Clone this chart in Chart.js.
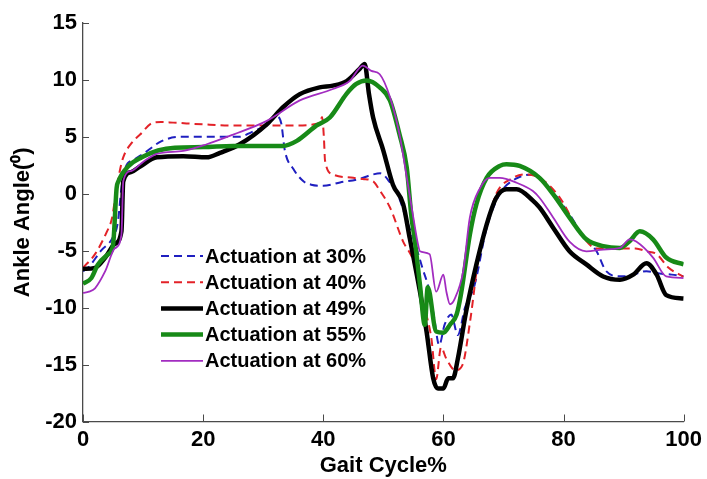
<!DOCTYPE html>
<html>
<head>
<meta charset="utf-8">
<script src="https://cdn.jsdelivr.net/npm/chart.js@4/dist/chart.umd.min.js"></script>
<style>
  html, body { margin: 0; padding: 0; background: #ffffff; }
  #wrap { width: 707px; height: 479px; }
</style>
</head>
<body>
<div id="wrap"><canvas id="c" width="707" height="479"></canvas></div>
<script>
// ---- data ----
const seriesLabels = ['Actuation at 30%', 'Actuation at 40%', 'Actuation at 49%', 'Actuation at 55%', 'Actuation at 60%'];
const xTicks = [0, 20, 40, 60, 80, 100];
const yTicks = [-20, -15, -10, -5, 0, 5, 10, 15];

const act30X = [0, 1, 3, 5, 5.8, 6.4, 7, 8.5, 10, 13, 16, 20, 23, 26, 28, 30, 32.2, 33, 33.6, 35, 36.7, 38, 40, 42.8, 46, 48.3, 49.5, 51.1, 52.5, 54, 55.3, 56.5, 57.7, 58.5, 59.3, 60.2, 61.3, 62.4, 63.6, 65.2, 67.2, 69.4, 72, 75, 78, 81, 83, 85.5, 87.1, 89.4, 91, 93.8, 96, 98, 100];
const act30Y = [-6.8, -6.4, -5, -3.8, -2.5, 0.5, 2.2, 3.0, 3.5, 4.6, 5.0, 5.0, 5.0, 5.0, 5.4, 5.9, 6.8, 6.2, 3.8, 2.2, 1.1, 0.8, 0.7, 1.0, 1.3, 1.7, 1.8, 1.0, -0.2, -2.5, -4.4, -6.5, -8.6, -11.0, -13.3, -11.5, -10.6, -12.4, -10.0, -8.0, -3.0, 0.0, 1.3, 1.7, 0.3, -1.8, -3.5, -5.05, -6.8, -7.25, -7.2, -6.8, -7.0, -7.1, -7.25];

const act40X = [0, 2, 4, 4.8, 5.6, 6.2, 6.7, 8, 9.5, 11.7, 13, 15, 20, 25, 30, 35, 39.4, 39.8, 40.1, 40.3, 41.6, 45, 46.6, 48.3, 49.4, 51.1, 53.3, 55, 56.6, 58, 58.8, 59.6, 60.5, 62, 63.2, 64.5, 66, 67.5, 68.8, 71.6, 73.5, 76, 79.4, 82.6, 85.5, 89.4, 92, 93.8, 95.5, 97.5, 100];
const act40Y = [-6.5, -5.3, -3.3, -2.2, 0.5, 2.2, 3.2, 4.4, 5.2, 6.25, 6.3, 6.25, 6.1, 6.0, 6.0, 6.0, 6.2, 6.75, 5.0, 2.9, 1.7, 1.4, 1.3, 1.1, 0.3, -1.2, -4.2, -5.9, -9.5, -12.7, -16.3, -13.5, -14.5, -15.5, -15.0, -11.0, -5.05, -2.3, 0.0, 1.4, 1.7, 1.4, -0.35, -3.3, -4.8, -4.8, -4.8, -5.05, -5.3, -6.5, -7.3];

const act49X = [0, 2, 3.7, 5.3, 6.4, 6.7, 8, 9.5, 12.3, 16.7, 20.6, 22.8, 26.1, 30.6, 33.3, 36.1, 39.4, 41.6, 43.9, 46.1, 46.9, 47.6, 48.3, 50, 51.6, 53.3, 54.4, 56.1, 57.2, 58.3, 59.1, 60, 60.8, 61.6, 62.4, 63.8, 65.5, 67.2, 68.8, 70.5, 72.2, 74.9, 76, 78.3, 81, 83.8, 86.6, 89.4, 91.6, 93.8, 95.5, 97.1, 100];
const act49Y = [-6.6, -6.5, -5.6, -4.4, -3.3, 1.1, 1.9, 2.4, 3.2, 3.3, 3.2, 3.6, 4.35, 6.1, 7.6, 8.75, 9.35, 9.5, 9.9, 11.0, 11.4, 8.8, 6.7, 3.8, 0.8, -0.9, -3.9, -8.6, -12.1, -16.2, -17.1, -17.1, -16.2, -16.2, -14.5, -10.3, -6.2, -2.7, -0.35, 0.4, 0.4, -0.6, -1.2, -3.0, -5.05, -6.2, -7.26, -7.55, -7.1, -6.1, -7.1, -8.9, -9.2];

const act55X = [0, 1.4, 2.5, 4.2, 5.0, 5.6, 5.9, 7.5, 9.8, 12.5, 15.3, 20, 25, 30, 33.3, 35.6, 38.9, 41.1, 43.9, 45.5, 47.2, 49.4, 51.1, 52.7, 53.9, 54.7, 55.2, 56.1, 56.9, 57.4, 58.8, 60, 61.1, 62.2, 62.9, 64.4, 65.5, 67.2, 69.4, 70.5, 72.7, 76, 78.3, 81, 83.8, 86.6, 89.4, 91, 92.7, 94.9, 97.1, 100];
const act55Y = [-7.9, -7.4, -6.2, -5.3, -4.5, 0.5, 1.1, 2.4, 3.2, 3.8, 4.05, 4.1, 4.2, 4.2, 4.2, 4.65, 6.0, 6.7, 8.8, 9.65, 9.95, 9.35, 8.2, 5.2, 2.3, -2.1, -3.9, -8.0, -11.5, -8.2, -12.1, -12.2, -11.5, -10.6, -8.9, -3.6, -0.9, 1.4, 2.45, 2.6, 2.45, 1.4, -0.05, -2.1, -4.0, -4.6, -4.76, -4.17, -3.3, -4.0, -5.6, -6.2];

const act60X = [0, 1, 2, 3.7, 5.3, 6.4, 6.7, 8, 10, 12.3, 16.7, 20.6, 25, 30.6, 36.1, 41.6, 44.4, 46.6, 48, 49.4, 51.1, 52.7, 54.1, 55, 55.8, 56.1, 57.7, 58.8, 60, 60.5, 61.1, 61.9, 63.3, 64.4, 66.1, 67.7, 69.4, 72.2, 74.9, 76, 78.3, 81, 83.8, 86.6, 89.4, 91, 92.1, 94.9, 97.1, 100];
const act60Y = [-8.7, -8.6, -8.3, -6.8, -4.8, -3.6, 1.1, 2.0, 2.8, 3.5, 3.77, 4.35, 5.2, 6.4, 8.2, 9.2, 9.9, 11.26, 10.8, 10.5, 8.5, 5.2, 0.8, -2.1, -4.5, -5.05, -5.3, -8.6, -7.1, -8.6, -9.7, -9.2, -6.8, -2.1, 0.5, 1.4, 1.4, 0.97, 0.24, -0.35, -2.1, -4.2, -5.05, -4.9, -4.76, -4.0, -4.2, -5.6, -7.26, -7.4];

// ---- build datasets ----
function pts(xs, ys) { return xs.map((x, i) => ({ x: x, y: ys[i] })); }
const FONT = '"Liberation Sans", Arial, sans-serif';

const datasets = [
  { label: seriesLabels[0], data: pts(act30X, act30Y), borderColor: '#1f1fc0', borderWidth: 2, borderDash: [8, 5], order: 5 },
  { label: seriesLabels[1], data: pts(act40X, act40Y), borderColor: '#e32228', borderWidth: 2, borderDash: [8, 5], order: 4 },
  { label: seriesLabels[2], data: pts(act49X, act49Y), borderColor: '#000000', borderWidth: 4.5, borderDash: [], order: 3 },
  { label: seriesLabels[3], data: pts(act55X, act55Y), borderColor: '#178a17', borderWidth: 4.5, borderDash: [], order: 2 },
  { label: seriesLabels[4], data: pts(act60X, act60Y), borderColor: '#a22cc0', borderWidth: 1.8, borderDash: [], order: 1 }
];
datasets.forEach(d => {
  d.pointRadius = 0; d.fill = false; d.tension = 0.25;
  d.cubicInterpolationMode = 'monotone'; d.borderJoinStyle = 'round';
});

// inward tick marks
const tickPlugin = {
  id: 'inwardTicks',
  afterDraw(chart) {
    const ctx = chart.ctx, xs = chart.scales.x, ys = chart.scales.y;
    const a = chart.chartArea;
    ctx.save();
    ctx.strokeStyle = '#4a4a4a';
    ctx.lineWidth = 1;
    ctx.beginPath();
    yTicks.forEach(v => {
      const y = Math.round(ys.getPixelForValue(v)) + 0.5;
      ctx.moveTo(a.left, y); ctx.lineTo(a.left + 6, y);
    });
    xTicks.forEach(v => {
      const x = Math.round(xs.getPixelForValue(v)) + 0.5;
      ctx.moveTo(x, a.bottom); ctx.lineTo(x, a.bottom - 7);
    });
    ctx.stroke();
    ctx.restore();
  }
};

// in-plot legend
const legendPlugin = {
  id: 'insideLegend',
  afterDraw(chart) {
    const ctx = chart.ctx, a = chart.chartArea;
    const x0 = a.left + 78, x1 = a.left + 120, y0 = a.top + 233, dy = 26.2;
    ctx.save();
    chart.data.datasets.forEach((d, i) => {
      const y = y0 + i * dy;
      ctx.beginPath();
      ctx.setLineDash(d.borderDash || []);
      ctx.strokeStyle = d.borderColor;
      ctx.lineWidth = d.borderWidth;
      ctx.moveTo(x0, y); ctx.lineTo(x1, y);
      ctx.stroke();
      ctx.setLineDash([]);
      ctx.fillStyle = '#000';
      ctx.font = 'bold 20px ' + FONT;
      ctx.textBaseline = 'middle';
      ctx.textAlign = 'left';
      ctx.fillText(d.label, x1 + 2, y + 1);
    });
    ctx.restore();
  }
};

new Chart(document.getElementById('c'), {
  type: 'line',
  data: { datasets: datasets },
  plugins: [tickPlugin, legendPlugin],
  options: {
    responsive: false,
    animation: false,
    devicePixelRatio: 1,
    layout: { padding: { left: 0, top: 23, right: 23, bottom: 0 } },
    plugins: { legend: { display: false }, tooltip: { enabled: false }, title: { display: false } },
    scales: {
      x: {
        type: 'linear', min: 0, max: 100,
        afterBuildTicks: s => { s.ticks = xTicks.map(v => ({ value: v })); },
        afterFit: s => { s.height = 57.5; },
        grid: { display: false, drawTicks: false },
        border: { display: true, color: '#4a4a4a', width: 1.3 },
        ticks: { color: '#000', padding: 5, font: { family: FONT, size: 22, weight: 'bold' }, maxRotation: 0 },
        title: { display: true, text: 'Gait Cycle%', color: '#000', font: { family: FONT, size: 22, weight: 'bold' }, padding: { top: 0, bottom: 0 } }
      },
      y: {
        type: 'linear', min: -20, max: 15,
        afterBuildTicks: s => { s.ticks = yTicks.map(v => ({ value: v })); },
        afterFit: s => { s.width = 83; },
        grid: { display: false, drawTicks: false },
        border: { display: true, color: '#4a4a4a', width: 1.3 },
        ticks: { color: '#000', padding: 6, font: { family: FONT, size: 22, weight: 'bold' } },
        title: { display: true, text: 'Ankle Angle(\u2070)', color: '#000', font: { family: FONT, size: 22, weight: 'bold' }, padding: { top: 10, bottom: 0 } }
      }
    }
  }
});
</script>
</body>
</html>
